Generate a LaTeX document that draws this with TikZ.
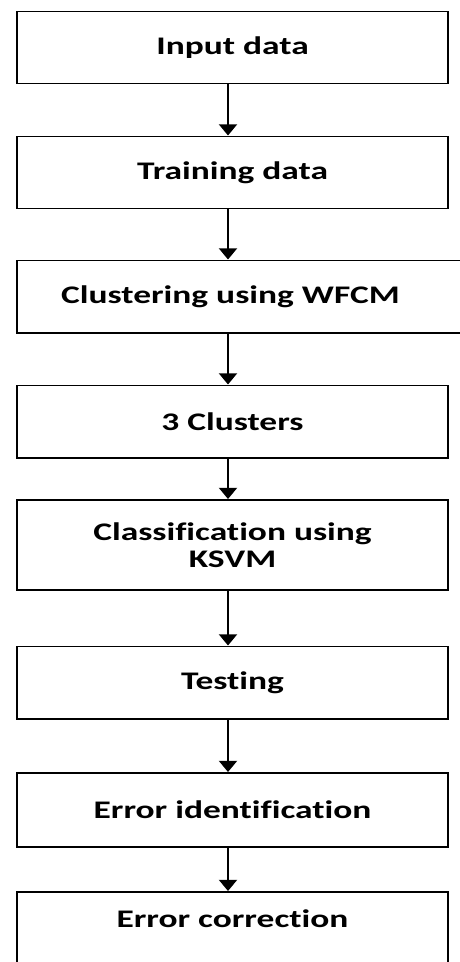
\documentclass[tikz,border=0pt]{standalone}
\usepackage{fontspec}
\setmainfont{Carlito}[FakeStretch=1.4, Ligatures=NoCommon]
\usetikzlibrary{arrows.meta}

\tikzset{
  box/.style={draw, line width=1.4pt, minimum width=10.775cm, minimum height=1.8cm, inner sep=0pt, align=center},
  flow/.style={line width=1.5pt, -{Triangle[width=0.45cm,length=0.28cm]}}
}

\begin{document}
\begin{tikzpicture}[x=0.025cm, y=-0.025cm, font=\bfseries\fontsize{18}{19}\selectfont]
      \useasboundingbox (0,0) rectangle (460,962);
      \clip (0,0) rectangle (460,962);
      \coordinate (arr) at (228,0);
      \node[box] (inp) at (232.5,47.5) {Input data};
      \node[box] (train) at (232.5,172.5) {Training data};
      \node[box, minimum width=11.475cm, label={[xshift=-0.4cm]center:Clustering using WFCM}] (clust) at (246.5,296.5) {};
      \node[box] (three) at (232.5,421.5) {3 Clusters};
      \node[box, minimum height=2.25cm] (ksvm) at (232.5,545) {Classification using\\KSVM};
      \node[box] (test) at (232.5,682.5) {Testing};
      \node[box, minimum height=1.85cm] (errid) at (232.5,810) {Error identification};
      \node[box, minimum height=2.5cm, text depth=1.15cm] (errcor) at (232.5,942) {Error correction};
      % arrows between the steps
      \draw[flow] (inp.south -| arr) -- (train.north -| arr);
      \draw[flow] (train.south -| arr) -- (clust.north -| arr);
      \draw[flow] (clust.south -| arr) -- (three.north -| arr);
      \draw[flow] (three.south -| arr) -- (ksvm.north -| arr);
      \draw[flow] (ksvm.south -| arr) -- (test.north -| arr);
      \draw[flow] (test.south -| arr) -- (errid.north -| arr);
      \draw[flow] (errid.south -| arr) -- (errcor.north -| arr);
\end{tikzpicture}
\end{document}
